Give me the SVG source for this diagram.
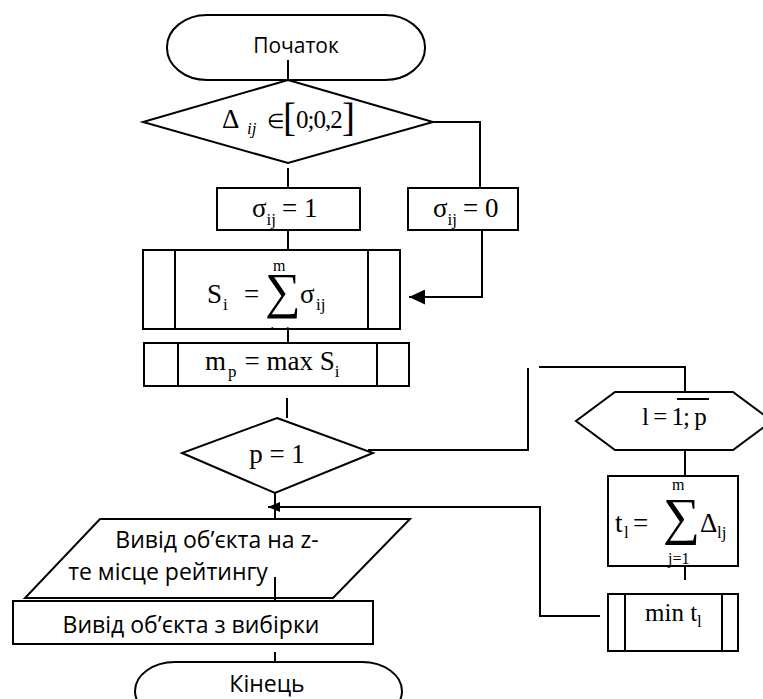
<svg xmlns="http://www.w3.org/2000/svg" width="763" height="699" viewBox="0 0 763 699">
<style>
.s{fill:#fff;stroke:#000;stroke-width:2}
.c{fill:none;stroke:#000;stroke-width:2}
.t{font-family:"Open Sans","Liberation Sans",sans-serif;fill:#000}
.m{font-family:"Liberation Serif","Times New Roman",serif;fill:#000}
.sb{font-size:17px}
.sm{font-size:16px}
</style>
<defs>
<marker id="a1" viewBox="0 0 16 15" refX="16" refY="7.5" markerWidth="16" markerHeight="15" markerUnits="userSpaceOnUse" orient="auto"><path d="M0,0 L16,7.5 L0,15 z" fill="#000"/></marker>
<marker id="a2" viewBox="0 0 12 10" refX="12" refY="5" markerWidth="12" markerHeight="10" markerUnits="userSpaceOnUse" orient="auto"><path d="M0,0 L12,5 L0,10 z" fill="#000"/></marker>
<clipPath id="clipS"><rect x="143" y="250" width="257" height="78"/></clipPath>
</defs>
<rect width="763" height="699" fill="#fff"/>

<g id="connectors">
<line class="c" x1="288" y1="60" x2="288" y2="80"/>
<line class="c" x1="288" y1="168" x2="288" y2="188"/>
<polyline class="c" points="433,122 480,122 480,188"/>
<line class="c" x1="288" y1="230" x2="288" y2="250"/>
<polyline class="c" points="482,230 482,297 409,297" marker-end="url(#a1)"/>
<line class="c" x1="288" y1="329" x2="288" y2="343"/>
<line class="c" x1="287" y1="398" x2="287" y2="418"/>
<polyline class="c" points="368,450 528,450 528,368"/>
<polyline class="c" points="539,367 685,367 685,392"/>
<line class="c" x1="685" y1="450" x2="685" y2="476"/>
<line class="c" x1="685" y1="566" x2="685" y2="580"/>
<polyline class="c" points="600,616 540,616 540,507 268,507" marker-end="url(#a2)"/>
<line class="c" x1="275" y1="493" x2="275" y2="519"/>
<line class="c" x1="275" y1="652" x2="275" y2="662"/>
</g>

<g id="start">
<rect class="s" x="167" y="15" width="258" height="65" rx="40" ry="32"/>
<text class="t" x="296" y="53" font-size="21" text-anchor="middle">Початок</text>
</g>
<line class="c" x1="288" y1="60" x2="288" y2="80"/>

<g id="cond1">
<polygon class="s" points="288,80 433,122 288,163 143,122"/>
<text class="m" font-size="27"><tspan x="222" y="128">Δ</tspan><tspan class="sb" x="247" y="134" font-style="italic">ij</tspan><tspan x="267" y="128" style="font-size:20px">∈</tspan><tspan x="283" y="131" style="font-size:39px">[</tspan><tspan x="296" y="128" style="font-size:25px" letter-spacing="-1">0;0,2</tspan><tspan x="342" y="131" style="font-size:39px">]</tspan></text>
</g>

<g id="sigma1">
<rect class="s" x="217" y="188" width="143" height="42"/>
<text class="m" font-size="27" x="252" y="217">σ<tspan class="sb" dy="8">ij</tspan><tspan dy="-8" dx="6">= 1</tspan></text>
</g>

<g id="sigma0">
<rect class="s" x="408" y="188" width="110" height="42"/>
<text class="m" font-size="27" x="433" y="217">σ<tspan class="sb" dy="8">ij</tspan><tspan dy="-8" dx="6">= 0</tspan></text>
</g>

<g id="sumS">
<rect class="s" x="143" y="250" width="257" height="79"/>
<line class="c" x1="175" y1="250" x2="175" y2="329"/>
<line class="c" x1="368" y1="250" x2="368" y2="329"/>
<text class="m" font-size="27"><tspan x="207" y="303">S</tspan><tspan class="sb" x="223" y="310">i</tspan><tspan x="244" y="303">=</tspan></text>
<text class="m" x="265" y="308" style="font-size:50px">∑</text>
<text class="m sm" x="273" y="271">m</text>
<text class="m sm" x="270" y="338" clip-path="url(#clipS)">j=1</text>
<text class="m" font-size="27"><tspan x="300" y="303">σ</tspan><tspan class="sb" x="316" y="310">ij</tspan></text>
</g>

<g id="maxS">
<rect class="s" x="144" y="343" width="265" height="43"/>
<line class="c" x1="178" y1="343" x2="178" y2="386"/>
<line class="c" x1="377" y1="343" x2="377" y2="386"/>
<text class="m" font-size="27" x="205" y="370">m<tspan class="sb" dy="7" dx="2">p</tspan><tspan dy="-7" dx="8">= max  S</tspan><tspan class="sb" dy="7">i</tspan></text>
</g>

<g id="cond2">
<polygon class="s" points="277,418 373,453 275,493 182,453"/>
<text class="m" font-size="27" x="277" y="463" text-anchor="middle">p = 1</text>
</g>

<g id="loop">
<polygon class="s" points="615,392 733,392 772,421 733,450 615,450 576,421"/>
<text class="m" x="642" y="425" font-size="25" letter-spacing="-1">l = 1; p</text>
<line class="c" x1="677" y1="399" x2="709" y2="399" stroke-width="1.5"/>
</g>

<g id="sumT">
<rect class="s" x="608" y="476" width="130" height="90"/>
<text class="m" font-size="27"><tspan x="615" y="532">t</tspan><tspan class="sb" x="624" y="538">l</tspan><tspan x="633" y="532">=</tspan></text>
<text class="m" x="663" y="534" style="font-size:52px">∑</text>
<text class="m sm" x="672" y="490">m</text>
<text class="m sm" x="668" y="564">j=1</text>
<text class="m" font-size="27"><tspan x="700" y="532">Δ</tspan><tspan class="sb" x="717" y="538">lj</tspan></text>
</g>

<g id="minT">
<rect class="s" x="608" y="594" width="130" height="57"/>
<line class="c" x1="625" y1="594" x2="625" y2="651"/>
<line class="c" x1="722" y1="594" x2="722" y2="651"/>
<text class="m" x="645" y="621" font-size="25">min t<tspan class="sb" dy="6">l</tspan></text>
</g>

<g id="output">
<polygon class="s" points="100,519 410,519 333,598 25,598"/>
<text class="t" x="217" y="548" font-size="23" text-anchor="middle">Вивід об’єкта на z-</text>
<text class="t" x="168" y="580" font-size="23" text-anchor="middle">те місце рейтингу</text>
<line class="c" x1="275" y1="577" x2="275" y2="600"/>
</g>

<g id="outputSel">
<rect class="s" x="13" y="601" width="360" height="43"/>
<text class="t" x="191" y="633" font-size="23" text-anchor="middle">Вивід об’єкта з вибірки</text>
</g>

<g id="end">
<rect class="s" x="135" y="662" width="267" height="58" rx="40" ry="29"/>
<text class="t" x="267" y="692" font-size="23" text-anchor="middle">Кінець</text>
</g>
</svg>
